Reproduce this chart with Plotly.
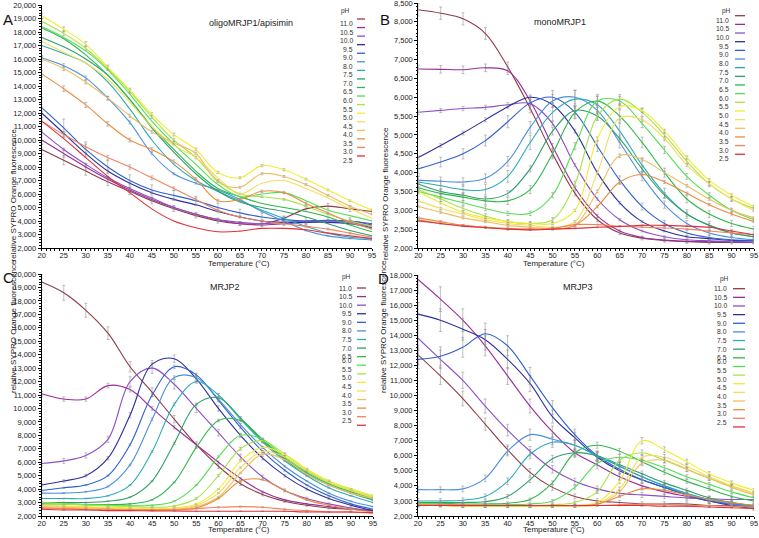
import plotly.graph_objects as go

W, H = 759, 538

temps = [20, 25, 30, 35, 40, 45, 50, 55, 60, 65, 70, 75, 80, 85, 90, 95]
ph_labels = ["11.0", "10.5", "10.0", "9.5", "9.0", "8.0", "7.5", "7.0", "6.5",
             "6.0", "5.5", "5.0", "4.5", "4.0", "3.5", "3.0", "2.5"]
colors = ["#8E3B46", "#9B2D9B", "#8E4FC8", "#2B2F9E", "#2F5FCF", "#4C8FE0",
          "#2AABB8", "#2E9E6A", "#2DB84A", "#52E052", "#A8E34A", "#F2EC30",
          "#F3DE5A", "#F0BE5C", "#EE8C3E", "#F0845A", "#E0303A"]

# ---------------- Panel A: oligoMRJP1/apisimin ----------------
a_110 = [9300, 8500, 7700, 6900, 6200, 5500, 4900, 4400, 4000, 3800, 3800, 4200, 4900, 5100, 4900, 4700]
a_105 = [10000, 9000, 8000, 7100, 6300, 5600, 5000, 4500, 4100, 3800, 3700, 3800, 3900, 4000, 4000, 3700]
a_100 = [10600, 9300, 8200, 7200, 6400, 5700, 5000, 4500, 4100, 3900, 3800, 3900, 4000, 4000, 3900, 3600]
a_95 = [12000, 10500, 9000, 7700, 6800, 6100, 5600, 5200, 4700, 4300, 4000, 3900, 3900, 3900, 3800, 3500]
a_90 = [12400, 10900, 9300, 8000, 7000, 6300, 5900, 5500, 5000, 4600, 4300, 4100, 4000, 4050, 4000, 3800]
a_80 = [16100, 15500, 14600, 13100, 11300, 9000, 7500, 6800, 6300, 5600, 4700, 4000, 3300, 2900, 2700, 2600]
a_75 = [17000, 16400, 15700, 14300, 12300, 10000, 8200, 7000, 6200, 5500, 4800, 4200, 3600, 3100, 2800, 2700]
a_70 = [17600, 16900, 16000, 14800, 13000, 10900, 9100, 7500, 6200, 5400, 5000, 4700, 4300, 3800, 3300, 2900]
a_65 = [18300, 17500, 16300, 14800, 13000, 11000, 9300, 7700, 6400, 5800, 5300, 5000, 4700, 4300, 3700, 3200]
a_60 = [18400, 17600, 16600, 15200, 13400, 11400, 9700, 8200, 6700, 5800, 6000, 6100, 5500, 4800, 4400, 4000]
a_55 = [18800, 17900, 16800, 15300, 13600, 11700, 10000, 8700, 7000, 6000, 5800, 5600, 5100, 4500, 4000, 3600]
a_50 = [19200, 18200, 17100, 15400, 13700, 11900, 10400, 9300, 7600, 7200, 8100, 7800, 7100, 6300, 5500, 4800]
a_45 = [17300, 16500, 15700, 14500, 12800, 11000, 9600, 8700, 7200, 6000, 6800, 7000, 6400, 5700, 4900, 4200]
a_40 = [16000, 15300, 14300, 13100, 11800, 10600, 9800, 9000, 6900, 6500, 7500, 7300, 6700, 5900, 5100, 4500]
a_35 = [14900, 13800, 12600, 11200, 10000, 9300, 8400, 7100, 5500, 5600, 6200, 6100, 5300, 4600, 3900, 3400]
a_30 = [11400, 10400, 9500, 8700, 8000, 7200, 6400, 5600, 4800, 4300, 4000, 3800, 3600, 3400, 3100, 2800]
a_25 = [11400, 10100, 8700, 7300, 6100, 4900, 4000, 3500, 3200, 3250, 3450, 3450, 3350, 3100, 2900, 2700]
a_err = [4, 3, 1, 1, 6, 1, 0, 0, 0, 0, 1, 1, 0, 1, 1.5, 2, 0]

# ---------------- Panel B: monoMRJP1 ----------------
b_110 = [8320, 8230, 8080, 7690, 6800, 5700, 4500, 3450, 2750, 2400, 2260, 2200, 2170, 2150, 2150, 2150]
b_105 = [6750, 6740, 6730, 6780, 6700, 5900, 4700, 3600, 2850, 2450, 2280, 2210, 2180, 2170, 2160, 2150]
b_100 = [5600, 5650, 5700, 5730, 5800, 5830, 5300, 4200, 3300, 2750, 2450, 2300, 2220, 2190, 2170, 2160]
b_95 = [4400, 4720, 5050, 5400, 5750, 6000, 5800, 5100, 4000, 3200, 2700, 2450, 2300, 2250, 2200, 2200]
b_90 = [4100, 4280, 4500, 4850, 5350, 5850, 6000, 5600, 4700, 3800, 3100, 2650, 2400, 2280, 2220, 2200]
b_80 = [3800, 3770, 3750, 3850, 4300, 5200, 5900, 6000, 5650, 4800, 3900, 3150, 2650, 2400, 2280, 2220]
b_75 = [3750, 3650, 3550, 3550, 3900, 4800, 5600, 5950, 5800, 5100, 4200, 3450, 2900, 2600, 2400, 2300]
b_70 = [3700, 3500, 3400, 3300, 3450, 4100, 5100, 5650, 5500, 4900, 4100, 3400, 2900, 2600, 2400, 2300]
b_65 = [3600, 3450, 3350, 3250, 3250, 3550, 4500, 5600, 5900, 5500, 4800, 4000, 3300, 2900, 2650, 2500]
b_60 = [3500, 3350, 3200, 3050, 2920, 2920, 3400, 4700, 5900, 5900, 5300, 4600, 3900, 3400, 3000, 2750]
b_55 = [3550, 3300, 3050, 2850, 2700, 2650, 2750, 3700, 5500, 5950, 5600, 5000, 4300, 3700, 3300, 3050]
b_50 = [3500, 3200, 2950, 2800, 2700, 2650, 2650, 3000, 4900, 5750, 5650, 5100, 4400, 3800, 3400, 3100]
b_45 = [3250, 3050, 2900, 2750, 2650, 2600, 2550, 2700, 4000, 5450, 5400, 4900, 4200, 3700, 3300, 3000]
b_40 = [3100, 2950, 2800, 2700, 2600, 2550, 2520, 2600, 3500, 4450, 4350, 4000, 3650, 3300, 3000, 2800]
b_35 = [2800, 2700, 2600, 2550, 2500, 2500, 2500, 2600, 3100, 3750, 3950, 3750, 3450, 3150, 2900, 2700]
b_30 = [2750, 2650, 2600, 2550, 2520, 2500, 2520, 2620, 2620, 2580, 2550, 2530, 2500, 2450, 2400, 2350]
b_25 = [2720, 2650, 2580, 2540, 2500, 2480, 2500, 2520, 2550, 2570, 2600, 2600, 2580, 2550, 2450, 2350]
b_err = [2, 1.5, 1, 1, 3, 3, 4, 2, 3, 2, 2, 1, 1, 1, 1, 0.5, 0.5]

# ---------------- Panel C: MRJP2 ----------------
c_110 = [19400, 18600, 17300, 15600, 13100, 11200, 9200, 7300, 5700, 4400, 3600, 3100, 2800, 2600, 2500, 2400]
c_105 = [11100, 10700, 10700, 11700, 11400, 10000, 8600, 7300, 6000, 4800, 3800, 3200, 2900, 2700, 2500, 2400]
c_100 = [5900, 6100, 6500, 7700, 12000, 13000, 11800, 10000, 8200, 6400, 4900, 3900, 3300, 2900, 2600, 2400]
c_95 = [4300, 4600, 5000, 6300, 9500, 13300, 13700, 12200, 10000, 8000, 6300, 5000, 4000, 3300, 2800, 2400]
c_90 = [3900, 4100, 4300, 5000, 7300, 11000, 13100, 12500, 10600, 8600, 6800, 5400, 4300, 3500, 2900, 2500]
c_80 = [3700, 3700, 3800, 4200, 5800, 9200, 12300, 12300, 10700, 8800, 7100, 5700, 4600, 3700, 3100, 2700]
c_75 = [3300, 3300, 3300, 3500, 4300, 6800, 10300, 12000, 11000, 9200, 7500, 6100, 5000, 4100, 3500, 3000]
c_70 = [3000, 3000, 3000, 3100, 3400, 4600, 7400, 10300, 10800, 9300, 7600, 6200, 5100, 4300, 3700, 3200]
c_65 = [2900, 2900, 2850, 2850, 2900, 3200, 4500, 7100, 9100, 9100, 7700, 6300, 5200, 4400, 3800, 3300]
c_60 = [3000, 2900, 2850, 2800, 2750, 2800, 3100, 4300, 6400, 8000, 7700, 6400, 5300, 4500, 3900, 3400]
c_55 = [3000, 2900, 2800, 2750, 2700, 2650, 2750, 3300, 5000, 7000, 7600, 6600, 5400, 4600, 4000, 3500]
c_50 = [2800, 2750, 2700, 2650, 2600, 2550, 2600, 2900, 4000, 6100, 7100, 6600, 5500, 4600, 4000, 3500]
c_45 = [2800, 2700, 2650, 2600, 2550, 2500, 2550, 2800, 3700, 5600, 6800, 6400, 5400, 4500, 3900, 3400]
c_40 = [2700, 2650, 2600, 2550, 2500, 2450, 2500, 2700, 3400, 5200, 6600, 6200, 5100, 4300, 3700, 3300]
c_35 = [2600, 2550, 2500, 2500, 2450, 2450, 2450, 2600, 3300, 4600, 4700, 3900, 3200, 2800, 2500, 2300]
c_30 = [2600, 2550, 2500, 2450, 2450, 2450, 2450, 2550, 2650, 2700, 2650, 2500, 2400, 2300, 2300, 2200]
c_25 = [2500, 2450, 2450, 2400, 2400, 2380, 2370, 2350, 2350, 2350, 2350, 2350, 2300, 2300, 2300, 2250]
c_err = [3, 1.5, 3, 2, 1, 1, 1, 1, 1, 1, 1.5, 1, 1, 1, 1, 1.5, 0.5]

# ---------------- Panel D: MRJP3 ----------------
d_110 = [12700, 11300, 9800, 8100, 6400, 4900, 3900, 3300, 3000, 2900, 2800, 2800, 2800, 2700, 2700, 2600]
d_105 = [17700, 16400, 15000, 13300, 11300, 9300, 7600, 6200, 5400, 4600, 4000, 3600, 3300, 3000, 2800, 2700]
d_100 = [13800, 12400, 11000, 9300, 7700, 6300, 5100, 4300, 3800, 3500, 3400, 3300, 3200, 3150, 3100, 3100]
d_95 = [15400, 15000, 14400, 13700, 12400, 10800, 8600, 7200, 5900, 5000, 4400, 3900, 3400, 3000, 2700, 2500]
d_90 = [12400, 12600, 13200, 14100, 13300, 11300, 9200, 7400, 6000, 5100, 4400, 3900, 3400, 3000, 2800, 2600]
d_80 = [3750, 3750, 3800, 4500, 6300, 7400, 7100, 6700, 6000, 5300, 4600, 4000, 3500, 3100, 2800, 2600]
d_75 = [3000, 3000, 3050, 3300, 4300, 6100, 6900, 6700, 6000, 5300, 4600, 4000, 3500, 3100, 2900, 2600]
d_70 = [2900, 2900, 2900, 2950, 3300, 4400, 5800, 6200, 6000, 5400, 4800, 4200, 3700, 3200, 2900, 2700]
d_65 = [2850, 2850, 2800, 2800, 2850, 3100, 4200, 6200, 6700, 6300, 5600, 4900, 4300, 3800, 3300, 3000]
d_60 = [2800, 2800, 2750, 2750, 2750, 2800, 3000, 3900, 5500, 5900, 5700, 5200, 4600, 4100, 3600, 3200]
d_55 = [2800, 2750, 2750, 2700, 2700, 2700, 2750, 2900, 3600, 5700, 6200, 5700, 5100, 4500, 4000, 3500]
d_50 = [2700, 2700, 2650, 2650, 2650, 2650, 2650, 2700, 2900, 4300, 7000, 6400, 5600, 4800, 4200, 3700]
d_45 = [2700, 2700, 2650, 2650, 2650, 2650, 2650, 2650, 2800, 3800, 5900, 5900, 5300, 4600, 4000, 3500]
d_40 = [2700, 2700, 2650, 2650, 2650, 2650, 2650, 2650, 2750, 3600, 5500, 5700, 5100, 4500, 3900, 3400]
d_35 = [2700, 2700, 2700, 2700, 2700, 2700, 2700, 2700, 2800, 3300, 3800, 3700, 3400, 3100, 2900, 2700]
d_30 = [2750, 2750, 2750, 2700, 2700, 2700, 2700, 2700, 2700, 2750, 2800, 2750, 2700, 2700, 2650, 2600]
d_25 = [2700, 2700, 2700, 2700, 2700, 2700, 2700, 2700, 2700, 2700, 2700, 2650, 2650, 2600, 2550, 2500]
d_err = [5, 5, 5, 5, 5, 5, 5, 4, 3, 3, 3, 3, 3, 3, 2, 1, 1]

panel_titles = ["oligoMRJP1/apisimin", "monoMRJP1", "MRJP2", "MRJP3"]
panel_letters = ["A", "B", "C", "D"]
panel_series = [
    [a_110, a_105, a_100, a_95, a_90, a_80, a_75, a_70, a_65, a_60, a_55, a_50, a_45, a_40, a_35, a_30, a_25],
    [b_110, b_105, b_100, b_95, b_90, b_80, b_75, b_70, b_65, b_60, b_55, b_50, b_45, b_40, b_35, b_30, b_25],
    [c_110, c_105, c_100, c_95, c_90, c_80, c_75, c_70, c_65, c_60, c_55, c_50, c_45, c_40, c_35, c_30, c_25],
    [d_110, d_105, d_100, d_95, d_90, d_80, d_75, d_70, d_65, d_60, d_55, d_50, d_45, d_40, d_35, d_30, d_25],
]
panel_err = [a_err, b_err, c_err, d_err]
y_ranges = [(2000, 20000), (2000, 8500), (2000, 20000), (2000, 18000)]
y_dticks = [1000, 500, 1000, 1000]

# layout geometry in pixels: (x_left, x_right, y_top, y_bottom)
boxes = [(41.7, 372, 5, 248), (418.3, 754, 3, 248),
         (41.7, 373, 274, 516), (418, 754, 275, 516)]
# legend geometry: (text_right, line_x0, line_x1, first_y, step, ph_x, ph_y)
legends = [(354, 357, 365, 19, 8.56, 345, 6),
           (730, 735, 745, 15.7, 8.66, 732, 6),
           (353, 357, 366, 288, 8.58, 346, 277),
           (728, 733, 745, 288.7, 8.64, 730, 279)]
letter_pos = [(1, 9), (378, 9), (1, 277), (376, 278)]
ytitle_x = [7, 385, 7, 383]
xtitle_y = [263, 263, 534.5, 534.5]
title_pos = [(207, 16), (588, 15), (208, 287), (595, 287)]

FONT = "Liberation Sans"

def px(x):
    return x / W

def py(y):
    return 1 - y / H

fig = go.Figure()
annotations = []
shapes = []

for p in range(4):
    xa = "x" if p == 0 else f"x{p+1}"
    ya = "y" if p == 0 else f"y{p+1}"
    for i, ser in enumerate(panel_series[p]):
        e = panel_err[p][i]
        fig.add_trace(go.Scatter(
            x=temps, y=ser, xaxis=xa, yaxis=ya, mode="lines",
            line=dict(color=colors[i], width=1.1, shape="spline", smoothing=1.0),
            error_y=dict(type="percent", value=e, visible=e > 0,
                         color="rgba(150,150,150,0.75)", thickness=0.8, width=1.5),
            showlegend=False, name="pH " + ph_labels[i]))
    x0, x1, y0, y1 = boxes[p]
    axx = dict(domain=[px(x0), px(x1)], range=[20, 95], dtick=5, automargin=False,
               showline=True, linecolor="black", linewidth=1, ticks="outside",
               ticklen=2, tickcolor="black", tickfont=dict(size=7.5, family=FONT, color="#222"),
               ticklabeloverflow="allow", ticklabelstandoff=-2,
               showgrid=False, zeroline=False, anchor=ya,
               minor=dict(dtick=1, ticklen=1.5, ticks="outside", tickcolor="black"))
    r0, r1 = y_ranges[p]
    axy = dict(domain=[py(y1), py(y0)], range=[r0, r1], dtick=y_dticks[p], automargin=False,
               tickformat=",d", showline=True, linecolor="black", linewidth=1,
               ticks="outside", ticklen=3, tickcolor="black", ticklabeloverflow="allow",
               tickfont=dict(size=7.5, family=FONT, color="#222"),
               showgrid=False, zeroline=False, anchor=xa,
               minor=dict(dtick=y_dticks[p] / 5, ticklen=1.5, ticks="outside", tickcolor="black"))
    key = "" if p == 0 else str(p + 1)
    fig.layout["xaxis" + key] = axx
    fig.layout["yaxis" + key] = axy

    tx, ty = title_pos[p]
    annotations.append(dict(x=px(tx), y=py(ty), xref="paper", yref="paper",
                            text=panel_titles[p], showarrow=False,
                            font=dict(size=9, family=FONT, color="#222")))
    lx, ly = letter_pos[p]
    annotations.append(dict(x=px(lx), y=py(ly), xref="paper", yref="paper",
                            text=panel_letters[p], showarrow=False, xanchor="left",
                            font=dict(size=15, family=FONT, color="#111")))
    annotations.append(dict(x=px(ytitle_x[p]), y=py((y0 + y1) / 2), xref="paper", yref="paper",
                            text="relative SYPRO Orange fluorescence", showarrow=False,
                            textangle=-90, font=dict(size=8, family=FONT, color="#222")))
    annotations.append(dict(x=px((x0 + x1) / 2), y=py(xtitle_y[p]), xref="paper", yref="paper",
                            text="Temperature (°C)", showarrow=False, borderpad=0,
                            font=dict(size=8, family=FONT, color="#222")))
    tr, l0, l1, fy, st, phx, phy = legends[p]
    annotations.append(dict(x=px(phx), y=py(phy), xref="paper", yref="paper",
                            text="pH", showarrow=False, borderpad=0,
                            font=dict(size=6.5, family=FONT, color="#333")))
    for i, lab in enumerate(ph_labels):
        yy = fy + i * st
        annotations.append(dict(x=px(tr), y=py(yy), xref="paper", yref="paper",
                                text=lab, showarrow=False, xanchor="right", borderpad=0,
                                font=dict(size=6.8, family=FONT, color="#333")))
        shapes.append(dict(type="line", xref="paper", yref="paper",
                           x0=px(l0), x1=px(l1), y0=py(yy), y1=py(yy),
                           line=dict(color=colors[i], width=1.3)))

fig.update_layout(width=W, height=H, margin=dict(l=0, r=0, t=0, b=0),
                  paper_bgcolor="white", plot_bgcolor="white",
                  annotations=annotations, shapes=shapes, showlegend=False)

fig.write_html("out.html", config={"displayModeBar": False},
               post_script="document.body.style.margin='0';")
